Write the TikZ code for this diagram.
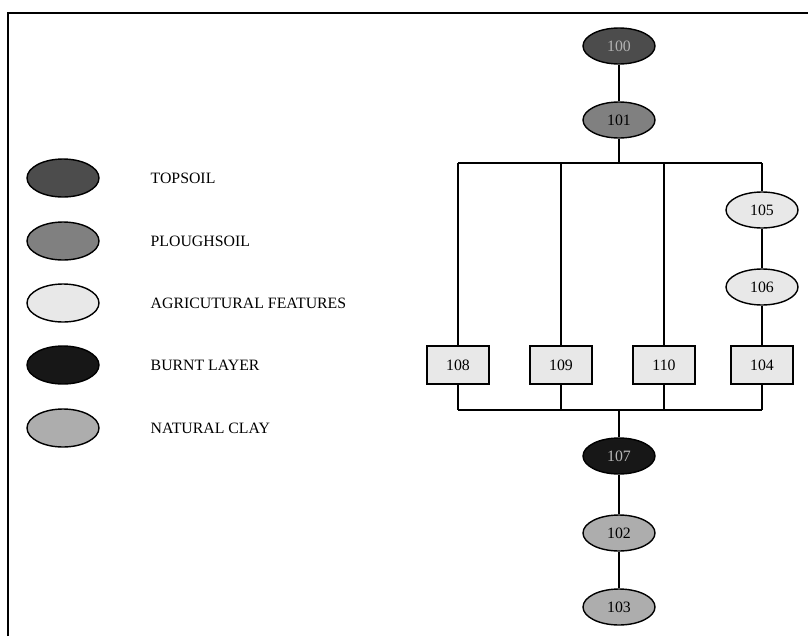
\documentclass[tikz,border=0pt]{standalone}
\usepackage{fontspec}
\setmainfont{Liberation Serif}
\usetikzlibrary{shapes.geometric}

\definecolor{topsoil}{gray}{0.30}
\definecolor{plough}{gray}{0.50}
\definecolor{agri}{gray}{0.91}
\definecolor{burnt}{gray}{0.09}
\definecolor{clay}{gray}{0.68}

\begin{document}
\begin{tikzpicture}[x=0.02cm, y=-0.02cm, line width=0.8pt,
    font=\fontsize{9}{11}\selectfont,
    layer/.style={ellipse, draw, inner sep=0pt, minimum width=1.44cm, minimum height=0.72cm},
    feature/.style={rectangle, draw, fill=agri, inner sep=0pt, minimum width=1.24cm, minimum height=0.76cm},
    key/.style={ellipse, draw, inner sep=0pt, minimum width=1.44cm, minimum height=0.76cm},
    keytext/.style={anchor=west, inner sep=0pt}]

  \useasboundingbox (0,0) rectangle (808,636);
  \draw[line width=1pt] (8,636) |- (808,13);

  % legend
  \node[key, fill=topsoil] (k-top)   at (63,178) {};
  \node[key, fill=plough]  (k-plo)   at (63,241) {};
  \node[key, fill=agri]    (k-agr)   at (63,303) {};
  \node[key, fill=burnt]   (k-bur)   at (63,365) {};
  \node[key, fill=clay]    (k-cla)   at (63,428) {};

  \node[keytext] (t-top) at (150,178) {TOPSOIL};
  \node[keytext] (t-plo) at (150,241) {PLOUGHSOIL};
  \node[keytext] (t-agr) at (150,303) {AGRICUTURAL FEATURES};
  \node[keytext] (t-bur) at (150,365) {BURNT LAYER};
  \node[keytext] (t-cla) at (150,428) {NATURAL CLAY};

  % matrix
  \node[layer, fill=topsoil, text=gray!60] (100) at (619,46)  {100};
  \node[layer, fill=plough]                (101) at (619,120) {101};
  \node[layer, fill=agri]                  (105) at (762,210) {105};
  \node[layer, fill=agri]                  (106) at (762,287) {106};
  \node[feature]                           (108) at (458,365) {108};
  \node[feature]                           (109) at (561,365) {109};
  \node[feature]                           (110) at (664,365) {110};
  \node[feature]                           (104) at (762,365) {104};
  \node[layer, fill=burnt, text=gray!55]   (107) at (619,456) {107};
  \node[layer, fill=clay]                  (102) at (619,533) {102};
  \node[layer, fill=clay]                  (103) at (619,607) {103};

  \coordinate (top-l) at (458,163);
  \coordinate (top-r) at (762,163);
  \coordinate (bot-l) at (458,410);
  \coordinate (bot-r) at (762,410);

  \draw (100) -- (101) -- (101 |- top-l);
  \draw (top-l) -- (top-r);
  \draw (top-l) -- (108) -- (bot-l);
  \draw (109 |- top-l) -- (109) -- (109 |- bot-l);
  \draw (110 |- top-l) -- (110) -- (110 |- bot-l);
  \draw (top-r) -- (105) -- (106) -- (104) -- (bot-r);
  \draw (bot-l) -- (bot-r);
  \draw (107 |- bot-l) -- (107) -- (102) -- (103);

\end{tikzpicture}
\end{document}
